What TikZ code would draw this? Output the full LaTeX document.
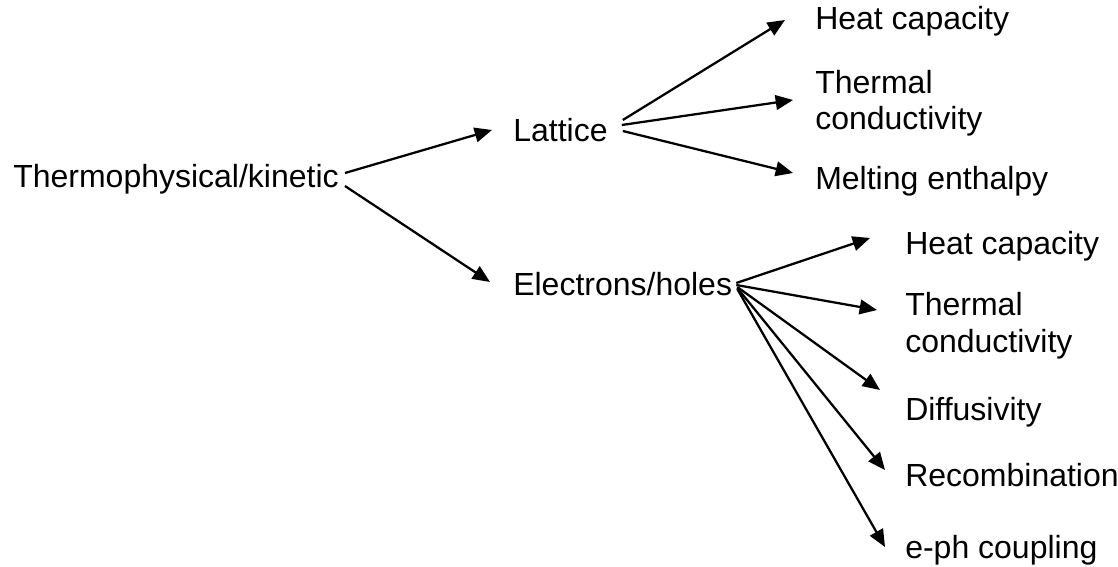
\documentclass[tikz,border=0pt]{standalone}
\usepackage{fontspec}
\setmainfont{Liberation Sans}
\usetikzlibrary{arrows.meta}
\usetikzlibrary{positioning}

\begin{document}
\begin{tikzpicture}[x=0.75pt, y=-0.75pt,
    every node/.style={inner sep=0pt, anchor=base west, align=left,
        font=\fontsize{24}{27.75}\selectfont},
    every edge/.style={draw, line width=1.7pt,
        -{Triangle[length=13pt, width=11pt]}}]
            \useasboundingbox (0,0) rectangle (1118,567);
            \node (TK) at (13,187) {Thermophysical/kinetic};
            \node (L) at (513,142) {Lattice};
            \node (E) at (513,295) {Electrons/holes};
            \node (LC) at (815,30) {Heat capacity};
            \node (LK) at (815,130) {Thermal\\conductivity};
            \node (LH) at (815,190) {Melting enthalpy};
            \node (EC) at (905,254) {Heat capacity};
            \node (EK) at (905,352) {Thermal\\conductivity};
            \node (ED) at (905,420) {Diffusivity};
            \node (ER) at (905,486) {Recombination};
            \node (EP) at (905,558) {e-ph coupling};
    	    \path ([shift={(6,-14)}]TK.base east) edge ([shift={(-21,-12)}]L.base west);
    	    \path ([shift={(6,-1)}]TK.base east) edge ([shift={(-23,-13)}]E.base west);
    	    \path ([shift={(15,-22)}]L.base east) edge ([shift={(-30,-10)}]LC.base west);
    	    \path ([shift={(14,-17)}]L.base east) edge ([shift={(-22,-30)}]LK.base west);
    	    \path ([shift={(15,-11)}]L.base east) edge ([shift={(-22,-17)}]LH.base west);
    	    \path ([shift={(4,-12)}]E.base east) edge ([shift={(-35,-16)}]EC.base west);
    	    \path ([shift={(4,-10)}]E.base east) edge ([shift={(-28,-42)}]EK.base west);
    	    \path ([shift={(5,-8)}]E.base east) edge ([shift={(-25,-30)}]ED.base west);
    	    \path ([shift={(5,-7)}]E.base east) edge ([shift={(-20,-16)}]ER.base west);
    	    \path ([shift={(5,-6)}]E.base east) edge ([shift={(-20,-11)}]EP.base west);
\end{tikzpicture}
\end{document}
